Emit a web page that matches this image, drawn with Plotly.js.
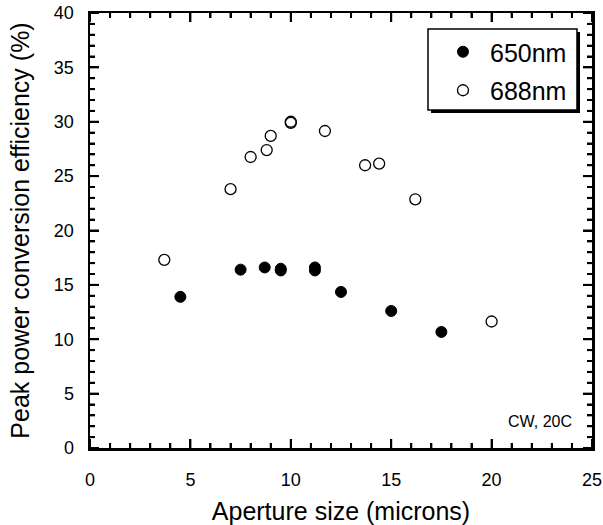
<!DOCTYPE html>
<html>
<head>
<meta charset="utf-8">
<script src="https://cdn.plot.ly/plotly-3.0.1.min.js"></script>
<style>html,body{margin:0;padding:0;background:#fff;}#chart{width:603px;height:525px;}</style>
</head>
<body>
<div id="chart"></div>
<script>
// Data
var x650 = [4.5, 7.5, 8.7, 9.5, 9.5, 11.2, 11.2, 12.5, 15.0, 17.5];
var y650 = [13.9, 16.4, 16.6, 16.33, 16.48, 16.33, 16.6, 14.35, 12.6, 10.67];
var x688 = [3.7, 7.0, 8.0, 8.8, 9.0, 10.0, 10.0, 11.7, 13.7, 14.4, 16.2, 20.0];
var y688 = [17.3, 23.8, 26.76, 27.4, 28.7, 29.9, 30.0, 29.15, 26.0, 26.15, 22.87, 11.63];
var seriesNames = ["650nm", "688nm"];
var xTicks = [0, 5, 10, 15, 20, 25];
var yTicks = [0, 5, 10, 15, 20, 25, 30, 35, 40];
var minorStep = 1;

var FONT = "Arial";
var PLOT_W = 502, PLOT_H = 435;

var traces = [
  {x: x650, y: y650, name: seriesNames[0], legendgroup: "a", type: "scatter", mode: "markers",
   marker: {symbol: "circle", size: 11, color: "#000", line: {color: "#000", width: 1}}},
  {x: x688, y: y688, name: seriesNames[1], legendgroup: "b", type: "scatter", mode: "markers",
   marker: {symbol: "circle-open", size: 11, color: "#000", line: {color: "#000", width: 1.3}}}
];

function axisFrom(ticks, titleText, standoff) {
  return {
    showgrid: false, zeroline: false, showline: true, linecolor: "#000", linewidth: 2.5,
    mirror: "allticks", ticks: "inside", ticklen: 9, tickwidth: 2, tickcolor: "#000",
    tickmode: "linear", tick0: ticks[0], dtick: ticks[1] - ticks[0],
    range: [ticks[0], ticks[ticks.length - 1]],
    minor: {dtick: minorStep, ticks: "inside", ticklen: 5, tickwidth: 2, tickcolor: "#000"},
    tickfont: {family: FONT, size: 18, color: "#000"},
    ticklabelstandoff: standoff,
    fixedrange: true, automargin: false,
    title: {text: titleText, font: {family: FONT, size: 25, color: "#000"}}
  };
}

function tickShapes(ticks, axis) {
  var out = [];
  var lo = ticks[0], hi = ticks[ticks.length - 1], major = ticks[1] - ticks[0];
  for (var v = lo; v <= hi + 1e-9; v += minorStep) {
    var isMajor = Math.abs((v - lo) / major - Math.round((v - lo) / major)) < 1e-9;
    var len = isMajor ? 9 : 5;
    var st = {color: "#000", width: 2};
    if (axis === "x") {
      var f = len / PLOT_H;
      out.push({type: "line", xref: "x", yref: "paper", layer: "above", x0: v, x1: v, y0: 0, y1: f, line: st});
      out.push({type: "line", xref: "x", yref: "paper", layer: "above", x0: v, x1: v, y0: 1, y1: 1 - f, line: st});
    } else {
      var g = len / PLOT_W;
      out.push({type: "line", xref: "paper", yref: "y", layer: "above", x0: 0, x1: g, y0: v, y1: v, line: st});
      out.push({type: "line", xref: "paper", yref: "y", layer: "above", x0: 1, x1: 1 - g, y0: v, y1: v, line: st});
    }
  }
  return out;
}

var legendShapes = [
  {type: "rect", xref: "paper", yref: "paper", layer: "above",
   x0: 0.6793, x1: 0.9761, y0: 0.7701, y1: 0.9563,
   fillcolor: "#000", line: {width: 0}},
  {type: "rect", xref: "paper", yref: "paper", layer: "above",
   x0: 0.6733, x1: 0.9701, y0: 0.777, y1: 0.9632,
   fillcolor: "#fff", line: {color: "#000", width: 1.5}}
];

var layout = {
  width: 603, height: 525,
  margin: {l: 90, r: 11, t: 13, b: 77},
  title: {text: " ", font: {size: 2}},
  paper_bgcolor: "#fff", plot_bgcolor: "#fff",
  font: {family: FONT, color: "#000"},
  showlegend: true,
  xaxis: axisFrom(xTicks, "Aperture size (microns)", 14),
  yaxis: axisFrom(yTicks, "Peak power conversion efficiency (%)", 10),
  legend: {
    x: 0.6892, y: 0.9632, xanchor: "left", yanchor: "top",
    bgcolor: "rgba(0,0,0,0)", borderwidth: 0,
    font: {family: FONT, size: 25, color: "#000"},
    itemwidth: 44, tracegroupgap: 3
  },
  shapes: tickShapes(xTicks, "x").concat(tickShapes(yTicks, "y")).concat(legendShapes),
  annotations: [
    {text: "CW, 20C", xref: "paper", yref: "paper", x: 0.964, y: 0.062,
     xanchor: "right", yanchor: "middle", showarrow: false,
     font: {family: FONT, size: 16, color: "#000"}}
  ]
};

Plotly.newPlot("chart", traces, layout, {displayModeBar: false, staticPlot: true});
</script>
</body>
</html>
